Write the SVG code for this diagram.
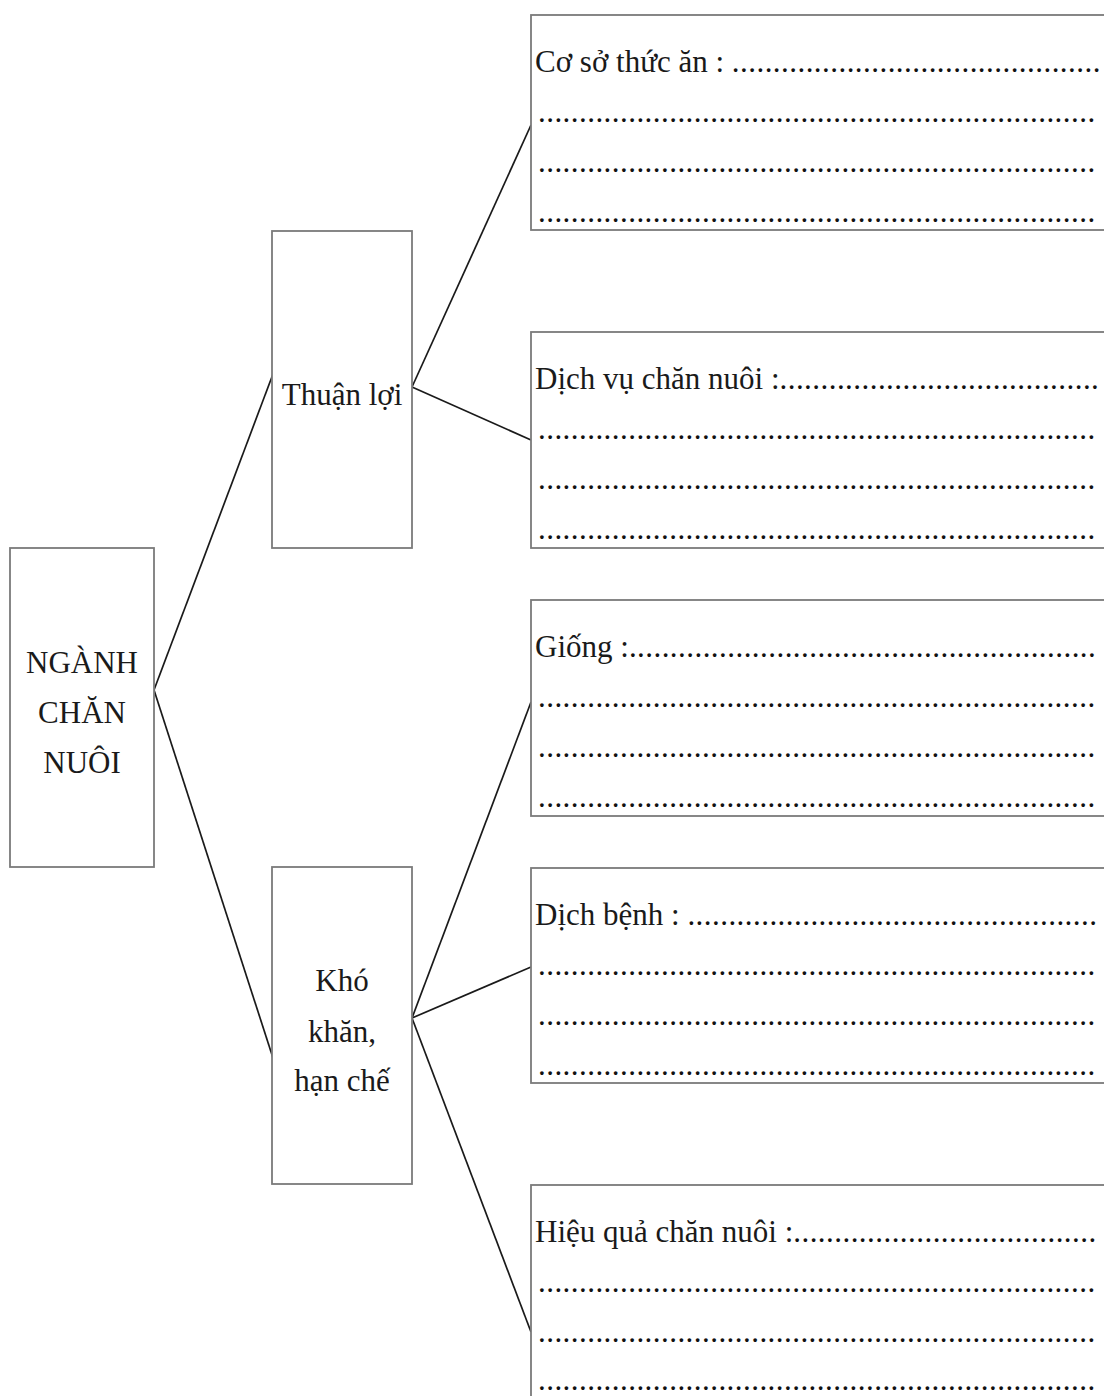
<svg xmlns="http://www.w3.org/2000/svg" width="1104" height="1396" viewBox="0 0 1104 1396">
<style>
.box{fill:#fff;stroke:#7a7a7a;stroke-width:1.8}
.con{stroke:#1a1a1a;stroke-width:1.7;fill:none}
text{font-family:"Liberation Serif","Times New Roman",serif;font-size:31px;fill:#1a1a1a}
.c{text-anchor:middle}
.d{letter-spacing:0.45px;fill:#111}
</style>
<rect width="1104" height="1396" fill="#fff"/>
<g id="connectors">
<line class="con" x1="154" y1="690" x2="273" y2="374"/>
<line class="con" x1="154" y1="690" x2="273" y2="1058"/>
<line class="con" x1="412" y1="387" x2="531" y2="125"/>
<line class="con" x1="412" y1="387" x2="531" y2="440"/>
<line class="con" x1="412" y1="1018" x2="531" y2="702"/>
<line class="con" x1="412" y1="1018" x2="531" y2="967"/>
<line class="con" x1="412" y1="1018" x2="531" y2="1332"/>
</g>
<g id="root">
<rect class="box" x="10" y="548" width="144" height="319"/>
<text class="c" x="82" y="673">NGÀNH</text>
<text class="c" x="82" y="723">CHĂN</text>
<text class="c" x="82" y="773">NUÔI</text>
</g>
<g id="thuan-loi">
<rect class="box" x="272" y="231" width="140" height="317"/>
<text class="c" x="342" y="405">Thuận lợi</text>
</g>
<g id="kho-khan">
<rect class="box" x="272" y="867" width="140" height="317"/>
<text class="c" x="342" y="991">Khó</text>
<text class="c" x="342" y="1042">khăn,</text>
<text class="c" x="342" y="1091">hạn chế</text>
</g>
<g id="co-so-thuc-an">
<rect class="box" x="531" y="15" width="620" height="215"/>
<text x="535" y="72">Cơ sở thức ăn : <tspan class="d">.............................................</tspan></text>
<text class="d" x="538" y="122">....................................................................</text>
<text class="d" x="538" y="172">....................................................................</text>
<text class="d" x="538" y="222">....................................................................</text>
</g>
<g id="dich-vu">
<rect class="box" x="531" y="332" width="620" height="216"/>
<text x="535" y="389">Dịch vụ chăn nuôi :<tspan class="d">.......................................</tspan></text>
<text class="d" x="538" y="439">....................................................................</text>
<text class="d" x="538" y="489">....................................................................</text>
<text class="d" x="538" y="539">....................................................................</text>
</g>
<g id="giong">
<rect class="box" x="531" y="600" width="620" height="216"/>
<text x="535" y="657">Giống :<tspan class="d">.........................................................</tspan></text>
<text class="d" x="538" y="707">....................................................................</text>
<text class="d" x="538" y="757">....................................................................</text>
<text class="d" x="538" y="807">....................................................................</text>
</g>
<g id="dich-benh">
<rect class="box" x="531" y="868" width="620" height="215"/>
<text x="535" y="925">Dịch bệnh : <tspan class="d">..................................................</tspan></text>
<text class="d" x="538" y="975">....................................................................</text>
<text class="d" x="538" y="1025">....................................................................</text>
<text class="d" x="538" y="1075">....................................................................</text>
</g>
<g id="hieu-qua">
<rect class="box" x="531" y="1185" width="620" height="260"/>
<text x="535" y="1242">Hiệu quả chăn nuôi :<tspan class="d">.....................................</tspan></text>
<text class="d" x="538" y="1292">....................................................................</text>
<text class="d" x="538" y="1342">....................................................................</text>
<text class="d" x="538" y="1390">....................................................................</text>
</g>
</svg>
